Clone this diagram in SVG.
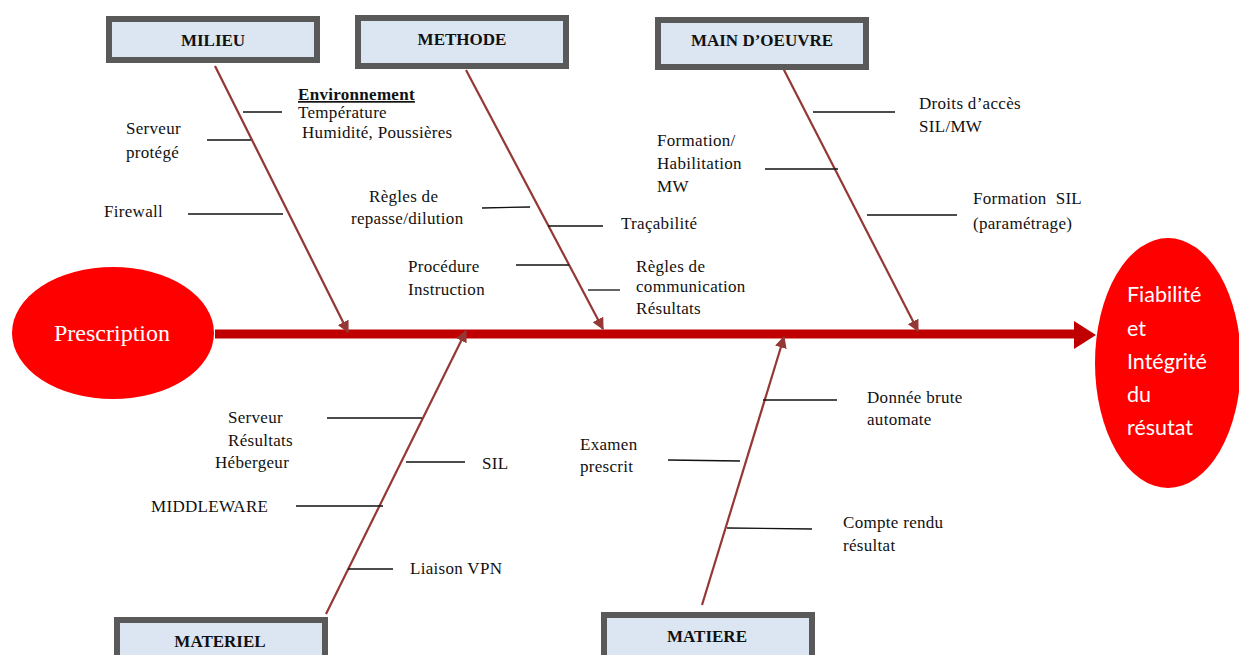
<svg xmlns="http://www.w3.org/2000/svg" width="1239" height="655" viewBox="0 0 1239 655">
<style>
.box{fill:#dce6f2;stroke:#595959;stroke-width:6}
.lbl{font-family:"Liberation Serif",serif;font-weight:bold;font-size:17px;fill:#111;text-anchor:middle}
.t{font-family:"Liberation Serif",serif;font-size:17px;letter-spacing:0.3px;fill:#111}
.bone{stroke:#953735;stroke-width:2.2;fill:none}
.sub{stroke:#111;stroke-width:1.3}
.ell{fill:#ff0000}
</style>
<defs>
<marker id="ah" viewBox="0 0 10 10" refX="9" refY="5" markerWidth="12" markerHeight="12" markerUnits="userSpaceOnUse" orient="auto">
<path d="M0,0 L10,5 L0,10 z" fill="#953735"/>
</marker>
</defs>
<rect width="1239" height="655" fill="#fff"/>
<g id="connectors">
<line x1="215" y1="334" x2="1075" y2="334" stroke="#c00000" stroke-width="9"/>
<path d="M1074,321 L1096,335 L1074,349 z" fill="#c00000"/>
<line class="bone" x1="215" y1="66" x2="348" y2="332" marker-end="url(#ah)"/>
<line class="bone" x1="466" y1="70" x2="603" y2="329" marker-end="url(#ah)"/>
<line class="bone" x1="783" y1="68" x2="918" y2="331" marker-end="url(#ah)"/>
<line class="bone" x1="326" y1="614" x2="466" y2="331" marker-end="url(#ah)"/>
<line class="bone" x1="702" y1="605" x2="784" y2="337" marker-end="url(#ah)"/>
<line class="sub" x1="243" y1="112" x2="282" y2="112"/>
<line class="sub" x1="207" y1="140" x2="251" y2="140"/>
<line class="sub" x1="188" y1="214" x2="283" y2="214"/>
<line class="sub" x1="482" y1="208" x2="530" y2="207"/>
<line class="sub" x1="548" y1="226" x2="603" y2="226"/>
<line class="sub" x1="516" y1="265" x2="569" y2="265"/>
<line class="sub" x1="588" y1="290" x2="620" y2="290"/>
<line class="sub" x1="813" y1="112" x2="895" y2="112"/>
<line class="sub" x1="765" y1="169" x2="838" y2="169"/>
<line class="sub" x1="867" y1="215" x2="957" y2="215"/>
<line class="sub" x1="327" y1="418" x2="422" y2="418"/>
<line class="sub" x1="406" y1="462" x2="465" y2="462"/>
<line class="sub" x1="296" y1="506" x2="383" y2="506"/>
<line class="sub" x1="348" y1="569" x2="393" y2="569"/>
<line class="sub" x1="763" y1="400" x2="837" y2="400"/>
<line class="sub" x1="668" y1="460" x2="740" y2="461"/>
<line class="sub" x1="727" y1="528" x2="812" y2="529"/>
</g>
<g id="milieu"><rect class="box" x="109" y="19" width="208" height="41"/><text class="lbl" x="213" y="46">MILIEU</text></g>
<g id="methode"><rect class="box" x="358" y="18" width="208" height="48"/><text class="lbl" x="462" y="45">METHODE</text></g>
<g id="main-oeuvre"><rect class="box" x="658" y="20" width="208" height="47"/><text class="lbl" x="762" y="46">MAIN D’OEUVRE</text></g>
<g id="materiel"><rect class="box" x="117" y="620" width="208" height="45"/><text class="lbl" x="220" y="647">MATERIEL</text></g>
<g id="matiere"><rect class="box" x="604" y="615" width="208" height="45"/><text class="lbl" x="707" y="642">MATIERE</text></g>
<g id="prescription"><ellipse class="ell" cx="113" cy="333" rx="101" ry="66"/><text x="112" y="341" font-family="Liberation Serif, serif" font-size="24" fill="#fff" text-anchor="middle">Prescription</text></g>
<g id="resultat"><ellipse class="ell" cx="1168" cy="363" rx="73" ry="125"/>
<text font-family="Lato, sans-serif" font-size="21.5" fill="#fff"><tspan x="1127" y="302">Fiabilité</tspan><tspan x="1127" y="336">et</tspan><tspan x="1127" y="369">Intégrité</tspan><tspan x="1127" y="402">du</tspan><tspan x="1127" y="435">résutat</tspan></text></g>
<g id="labels">
<text class="t" x="298" y="100" font-weight="bold" text-decoration="underline">Environnement</text>
<text class="t" x="298" y="118">Température</text>
<text class="t" x="302" y="138">Humidité, Poussières</text>
<text class="t" x="126" y="134">Serveur</text>
<text class="t" x="126" y="158">protégé</text>
<text class="t" x="104" y="217">Firewall</text>
<text class="t" x="369" y="202">Règles de</text>
<text class="t" x="351" y="224">repasse/dilution</text>
<text class="t" x="621" y="229">Traçabilité</text>
<text class="t" x="408" y="272">Procédure</text>
<text class="t" x="408" y="295">Instruction</text>
<text class="t" x="636" y="272">Règles de</text>
<text class="t" x="636" y="292">communication</text>
<text class="t" x="636" y="314">Résultats</text>
<text class="t" x="657" y="146">Formation/</text>
<text class="t" x="657" y="169">Habilitation</text>
<text class="t" x="657" y="192">MW</text>
<text class="t" x="919" y="109">Droits d’accès</text>
<text class="t" x="919" y="132">SIL/MW</text>
<text class="t" x="973" y="204" xml:space="preserve">Formation  SIL</text>
<text class="t" x="973" y="229">(paramétrage)</text>
<text class="t" x="228" y="423">Serveur</text>
<text class="t" x="228" y="446">Résultats</text>
<text class="t" x="215" y="468">Hébergeur</text>
<text class="t" x="151" y="512">MIDDLEWARE</text>
<text class="t" x="482" y="469">SIL</text>
<text class="t" x="410" y="574">Liaison VPN</text>
<text class="t" x="867" y="403">Donnée brute</text>
<text class="t" x="867" y="425">automate</text>
<text class="t" x="580" y="450">Examen</text>
<text class="t" x="580" y="472">prescrit</text>
<text class="t" x="843" y="528">Compte rendu</text>
<text class="t" x="843" y="551">résultat</text>
</g>
</svg>
